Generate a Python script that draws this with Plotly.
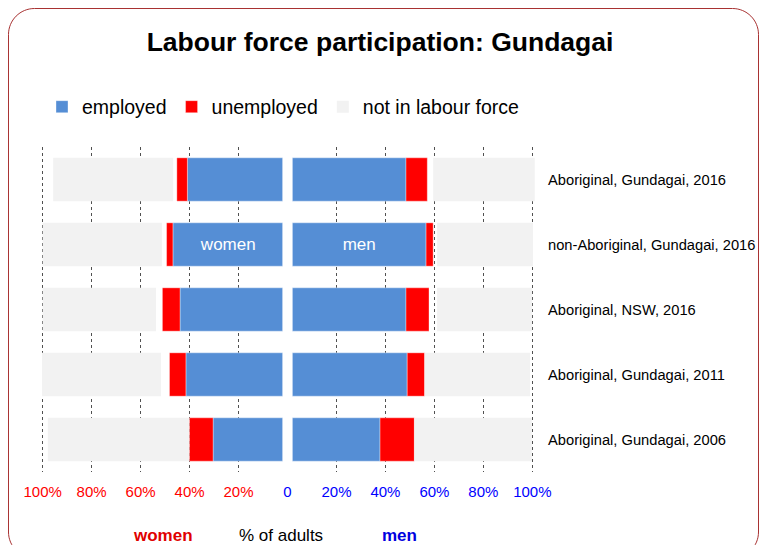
import plotly.graph_objects as go

# ---------------- data ----------------
categories = [
    "Aboriginal, Gundagai, 2016",
    "non-Aboriginal, Gundagai, 2016",
    "Aboriginal, NSW, 2016",
    "Aboriginal, Gundagai, 2011",
    "Aboriginal, Gundagai, 2006",
]
women_employed = [38.9, 44.8, 41.9, 39.5, 28.4]
women_unemployed = [4.3, 2.6, 7.2, 6.7, 9.7]
women_not_stated = [1.5, 1.9, 2.6, 3.5, 0.0]
women_not_in_lf = [49.0, 48.7, 46.3, 48.6, 57.8]

men_employed = [46.4, 54.6, 46.4, 46.9, 35.8]
men_unemployed = [8.7, 2.9, 9.4, 7.1, 14.0]
men_not_stated = [2.4, 1.6, 3.3, 0.0, 0.0]
men_not_in_lf = [41.5, 39.2, 38.8, 43.1, 48.0]

tick_values = [-100, -80, -60, -40, -20, 0, 20, 40, 60, 80, 100]
tick_labels = ["100%", "80%", "60%", "40%", "20%", "0", "20%", "40%", "60%", "80%", "100%"]

# ---------------- styles ----------------
GAP = 2.0  # visual gap (in % units) between the women and men bars
C_EMP = "#558ED5"
C_UNEMP = "#FF0000"
C_NILF = "#F2F2F2"
FONT = "Liberation Sans, Arial, sans-serif"

OFF = 8  # page body margin; layout coordinates below are window pixels minus OFF
W, H = 767 - 2 * OFF, 553 - 2 * OFF
ML, MT = 39 - OFF, 147 - OFF
MR = W - (536 - OFF)
MB = H - (472 - OFF)
PW, PH = W - ML - MR, H - MT - MB


def neg(vals):
    return [-v for v in vals]


def px(xw):
    """window x pixel -> paper x"""
    return (xw - OFF - ML) / PW


def py(yw):
    """window y pixel -> paper y"""
    return 1 - (yw - OFF - MT) / PH


fig = go.Figure()
edge = dict(width=1, color="rgba(255,255,255,0.35)")
clear = "rgba(0,0,0,0)"
noline = dict(width=0)


def add(x, name, color, show, text=None, line=edge):
    fig.add_trace(go.Bar(
        y=categories, x=x, orientation="h", name=name,
        marker=dict(color=color, line=line),
        legendgroup=name, showlegend=show,
        text=text, textposition="inside" if text else None,
        insidetextanchor="middle", textangle=0,
        textfont=dict(family=FONT, size=17, color="white"),
        constraintext="none",
        hoverinfo="skip" if color == clear else None,
    ))


n = len(categories)
row_text_w = ["women" if i == 1 else "" for i in range(n)]
row_text_m = ["men" if i == 1 else "" for i in range(n)]

# women side (negative, stacked leftwards)
add([-GAP] * n, "gap", clear, False, line=noline)
add(neg(women_employed), "employed", C_EMP, True, text=row_text_w)
add(neg(women_unemployed), "unemployed", C_UNEMP, True)
add(neg(women_not_stated), "not stated", clear, False, line=noline)
add(neg(women_not_in_lf), "not in labour force", C_NILF, True, line=noline)
# men side
add([GAP] * n, "gap", clear, False, line=noline)
add(men_employed, "employed", C_EMP, False, text=row_text_m)
add(men_unemployed, "unemployed", C_UNEMP, False)
add(men_not_stated, "not stated", clear, False, line=noline)
add(men_not_in_lf, "not in labour force", C_NILF, False, line=noline)

ticktext = []
for v, t in zip(tick_values, tick_labels):
    col = "#FF0000" if v < 0 else "#0000FF"
    ticktext.append(f'<span style="color:{col}">{t}</span>')

# rounded border, window pixel coords
L, T, R, B, r = OFF + 0.5, OFF + 0.5, 767 - OFF - 0.5, 558.0, 26.0
k = 0.5523 * r
pts = [
    ("M", [(L + r, T)]),
    ("L", [(R - r, T)]),
    ("C", [(R - r + k, T), (R, T + r - k), (R, T + r)]),
    ("L", [(R, B - r)]),
    ("C", [(R, B - r + k), (R - r + k, B), (R - r, B)]),
    ("L", [(L + r, B)]),
    ("C", [(L + r - k, B), (L, B - r + k), (L, B - r)]),
    ("L", [(L, T + r)]),
    ("C", [(L, T + r - k), (L + r - k, T), (L + r, T)]),
]
path = ""
for cmd, ps in pts:
    path += cmd + " ".join(f"{px(a):.5f},{py(b):.5f}" for a, b in ps) + " "
path += "Z"

fig.update_layout(
    width=W, height=H,
    margin=dict(l=ML, r=MR, t=MT, b=MB, pad=0),
    paper_bgcolor="white", plot_bgcolor="white",
    barmode="relative", bargap=0.333,
    font=dict(family=FONT, color="#000000"),
    title=dict(
        text="Labour force participation: Gundagai",
        x=(380 - OFF) / W, xanchor="center", y=1 - (42 - OFF) / H, yanchor="middle",
        font=dict(family=FONT, size=26.5, color="#000000", weight="bold"),
    ),
    legend=dict(
        orientation="h", x=px(42), xanchor="left", y=py(107), yanchor="middle",
        font=dict(family=FONT, size=19.5, color="#000000"),
        bgcolor="rgba(0,0,0,0)", traceorder="normal", itemclick=False,
    ),
    xaxis=dict(
        range=[-101.5, 101.5], tickvals=tick_values, ticktext=ticktext,
        showgrid=True, gridcolor="#505050", griddash="dot", gridwidth=1,
        zeroline=True, zerolinecolor="white", zerolinewidth=1,
        showline=False, ticks="", ticklabelstandoff=9,
        tickfont=dict(family=FONT, size=15),
        fixedrange=True, automargin=False,
    ),
    yaxis=dict(
        type="category", categoryorder="array", categoryarray=categories,
        autorange="reversed", side="right", showgrid=False, zeroline=False,
        ticks="", ticklabelstandoff=11,
        tickfont=dict(family=FONT, size=14.7, color="#000000"),
        fixedrange=True, automargin=False,
    ),
    shapes=[dict(type="path", xref="paper", yref="paper", path=path,
                 line=dict(color="#A83232", width=1), layer="below")],
    annotations=[
        dict(text="<b>women</b>", x=px(163), y=py(535.5), xref="paper", yref="paper",
             xanchor="center", yanchor="middle",
             showarrow=False, font=dict(family=FONT, size=17, color="#E00000")),
        dict(text="% of adults", x=px(280.5), y=py(535.5), xref="paper", yref="paper",
             xanchor="center", yanchor="middle",
             showarrow=False, font=dict(family=FONT, size=17, color="#000000")),
        dict(text="<b>men</b>", x=px(399.5), y=py(535.5), xref="paper", yref="paper",
             xanchor="center", yanchor="middle",
             showarrow=False, font=dict(family=FONT, size=17, color="#0000E0")),
    ],
)

fig.write_html("out.html")
